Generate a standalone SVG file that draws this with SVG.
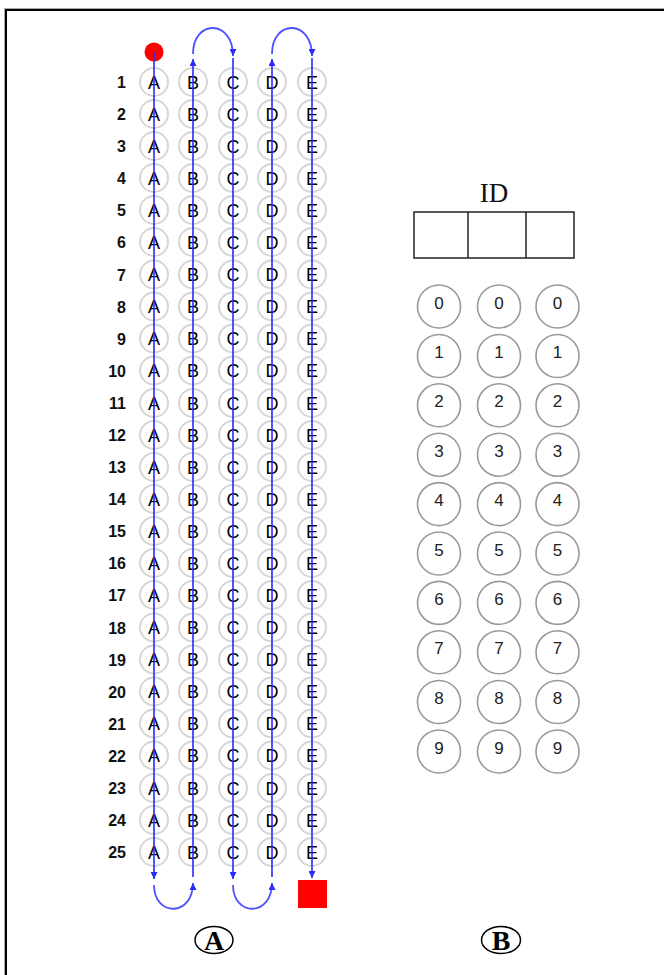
<svg xmlns="http://www.w3.org/2000/svg" width="664" height="975" viewBox="0 0 664 975">
<style>
.n{font-family:"Liberation Sans",Arial,sans-serif;font-size:16px;font-weight:bold;fill:#111;text-anchor:end}
.l{font-family:"Liberation Sans",Arial,sans-serif;font-size:18px;fill:#000;text-anchor:middle}
.b{fill:none;stroke:#d6d6d6;stroke-width:2}
.dc{fill:#fff;stroke:#999;stroke-width:1.6}
.dt{font-family:"Liberation Sans",Arial,sans-serif;font-size:17px;fill:#222;text-anchor:middle}
.ln{fill:none;stroke:#2a2aff;stroke-width:1.6}
.arc{fill:none;stroke:#5050ff;stroke-width:1.8}
.lab{font-family:"Liberation Serif","Times New Roman",serif;font-size:28px;font-weight:bold;fill:#000;text-anchor:middle}
</style>
<defs>
<marker id="ah" viewBox="0 0 10 10" refX="10" refY="5" markerWidth="8" markerHeight="7" markerUnits="userSpaceOnUse" orient="auto"><path d="M0,0 L10,5 L0,10 z" fill="#2a2aff"/></marker>
</defs>
<rect width="664" height="975" fill="#fff"/>
<g id="frame">
<path d="M4.5,975 V8.5 H664" fill="none" stroke="#aaa" stroke-width="1"/>
<path d="M6,975 V10 H664" fill="none" stroke="#000" stroke-width="2"/>
</g>
<g id="rows">
<g id="q1" transform="translate(0,82)"><text class="n" x="126" y="6">1</text><circle class="b" cx="154" r="14"/><circle class="b" cx="193" r="14"/><circle class="b" cx="233" r="14"/><circle class="b" cx="272" r="14"/><circle class="b" cx="312" r="14"/><text class="l" x="154" y="6.5">A</text><text class="l" x="193" y="6.5">B</text><text class="l" x="233" y="6.5">C</text><text class="l" x="272" y="6.5">D</text><text class="l" x="312" y="6.5">E</text></g>
<g id="q2" transform="translate(0,114)"><text class="n" x="126" y="6">2</text><circle class="b" cx="154" r="14"/><circle class="b" cx="193" r="14"/><circle class="b" cx="233" r="14"/><circle class="b" cx="272" r="14"/><circle class="b" cx="312" r="14"/><text class="l" x="154" y="6.5">A</text><text class="l" x="193" y="6.5">B</text><text class="l" x="233" y="6.5">C</text><text class="l" x="272" y="6.5">D</text><text class="l" x="312" y="6.5">E</text></g>
<g id="q3" transform="translate(0,146)"><text class="n" x="126" y="6">3</text><circle class="b" cx="154" r="14"/><circle class="b" cx="193" r="14"/><circle class="b" cx="233" r="14"/><circle class="b" cx="272" r="14"/><circle class="b" cx="312" r="14"/><text class="l" x="154" y="6.5">A</text><text class="l" x="193" y="6.5">B</text><text class="l" x="233" y="6.5">C</text><text class="l" x="272" y="6.5">D</text><text class="l" x="312" y="6.5">E</text></g>
<g id="q4" transform="translate(0,178)"><text class="n" x="126" y="6">4</text><circle class="b" cx="154" r="14"/><circle class="b" cx="193" r="14"/><circle class="b" cx="233" r="14"/><circle class="b" cx="272" r="14"/><circle class="b" cx="312" r="14"/><text class="l" x="154" y="6.5">A</text><text class="l" x="193" y="6.5">B</text><text class="l" x="233" y="6.5">C</text><text class="l" x="272" y="6.5">D</text><text class="l" x="312" y="6.5">E</text></g>
<g id="q5" transform="translate(0,210)"><text class="n" x="126" y="6">5</text><circle class="b" cx="154" r="14"/><circle class="b" cx="193" r="14"/><circle class="b" cx="233" r="14"/><circle class="b" cx="272" r="14"/><circle class="b" cx="312" r="14"/><text class="l" x="154" y="6.5">A</text><text class="l" x="193" y="6.5">B</text><text class="l" x="233" y="6.5">C</text><text class="l" x="272" y="6.5">D</text><text class="l" x="312" y="6.5">E</text></g>
<g id="q6" transform="translate(0,242)"><text class="n" x="126" y="6">6</text><circle class="b" cx="154" r="14"/><circle class="b" cx="193" r="14"/><circle class="b" cx="233" r="14"/><circle class="b" cx="272" r="14"/><circle class="b" cx="312" r="14"/><text class="l" x="154" y="6.5">A</text><text class="l" x="193" y="6.5">B</text><text class="l" x="233" y="6.5">C</text><text class="l" x="272" y="6.5">D</text><text class="l" x="312" y="6.5">E</text></g>
<g id="q7" transform="translate(0,274.5)"><text class="n" x="126" y="6">7</text><circle class="b" cx="154" r="14"/><circle class="b" cx="193" r="14"/><circle class="b" cx="233" r="14"/><circle class="b" cx="272" r="14"/><circle class="b" cx="312" r="14"/><text class="l" x="154" y="6.5">A</text><text class="l" x="193" y="6.5">B</text><text class="l" x="233" y="6.5">C</text><text class="l" x="272" y="6.5">D</text><text class="l" x="312" y="6.5">E</text></g>
<g id="q8" transform="translate(0,306.5)"><text class="n" x="126" y="6">8</text><circle class="b" cx="154" r="14"/><circle class="b" cx="193" r="14"/><circle class="b" cx="233" r="14"/><circle class="b" cx="272" r="14"/><circle class="b" cx="312" r="14"/><text class="l" x="154" y="6.5">A</text><text class="l" x="193" y="6.5">B</text><text class="l" x="233" y="6.5">C</text><text class="l" x="272" y="6.5">D</text><text class="l" x="312" y="6.5">E</text></g>
<g id="q9" transform="translate(0,338.5)"><text class="n" x="126" y="6">9</text><circle class="b" cx="154" r="14"/><circle class="b" cx="193" r="14"/><circle class="b" cx="233" r="14"/><circle class="b" cx="272" r="14"/><circle class="b" cx="312" r="14"/><text class="l" x="154" y="6.5">A</text><text class="l" x="193" y="6.5">B</text><text class="l" x="233" y="6.5">C</text><text class="l" x="272" y="6.5">D</text><text class="l" x="312" y="6.5">E</text></g>
<g id="q10" transform="translate(0,370.5)"><text class="n" x="126" y="6">10</text><circle class="b" cx="154" r="14"/><circle class="b" cx="193" r="14"/><circle class="b" cx="233" r="14"/><circle class="b" cx="272" r="14"/><circle class="b" cx="312" r="14"/><text class="l" x="154" y="6.5">A</text><text class="l" x="193" y="6.5">B</text><text class="l" x="233" y="6.5">C</text><text class="l" x="272" y="6.5">D</text><text class="l" x="312" y="6.5">E</text></g>
<g id="q11" transform="translate(0,403)"><text class="n" x="126" y="6">11</text><circle class="b" cx="154" r="14"/><circle class="b" cx="193" r="14"/><circle class="b" cx="233" r="14"/><circle class="b" cx="272" r="14"/><circle class="b" cx="312" r="14"/><text class="l" x="154" y="6.5">A</text><text class="l" x="193" y="6.5">B</text><text class="l" x="233" y="6.5">C</text><text class="l" x="272" y="6.5">D</text><text class="l" x="312" y="6.5">E</text></g>
<g id="q12" transform="translate(0,435)"><text class="n" x="126" y="6">12</text><circle class="b" cx="154" r="14"/><circle class="b" cx="193" r="14"/><circle class="b" cx="233" r="14"/><circle class="b" cx="272" r="14"/><circle class="b" cx="312" r="14"/><text class="l" x="154" y="6.5">A</text><text class="l" x="193" y="6.5">B</text><text class="l" x="233" y="6.5">C</text><text class="l" x="272" y="6.5">D</text><text class="l" x="312" y="6.5">E</text></g>
<g id="q13" transform="translate(0,467)"><text class="n" x="126" y="6">13</text><circle class="b" cx="154" r="14"/><circle class="b" cx="193" r="14"/><circle class="b" cx="233" r="14"/><circle class="b" cx="272" r="14"/><circle class="b" cx="312" r="14"/><text class="l" x="154" y="6.5">A</text><text class="l" x="193" y="6.5">B</text><text class="l" x="233" y="6.5">C</text><text class="l" x="272" y="6.5">D</text><text class="l" x="312" y="6.5">E</text></g>
<g id="q14" transform="translate(0,499)"><text class="n" x="126" y="6">14</text><circle class="b" cx="154" r="14"/><circle class="b" cx="193" r="14"/><circle class="b" cx="233" r="14"/><circle class="b" cx="272" r="14"/><circle class="b" cx="312" r="14"/><text class="l" x="154" y="6.5">A</text><text class="l" x="193" y="6.5">B</text><text class="l" x="233" y="6.5">C</text><text class="l" x="272" y="6.5">D</text><text class="l" x="312" y="6.5">E</text></g>
<g id="q15" transform="translate(0,531)"><text class="n" x="126" y="6">15</text><circle class="b" cx="154" r="14"/><circle class="b" cx="193" r="14"/><circle class="b" cx="233" r="14"/><circle class="b" cx="272" r="14"/><circle class="b" cx="312" r="14"/><text class="l" x="154" y="6.5">A</text><text class="l" x="193" y="6.5">B</text><text class="l" x="233" y="6.5">C</text><text class="l" x="272" y="6.5">D</text><text class="l" x="312" y="6.5">E</text></g>
<g id="q16" transform="translate(0,563)"><text class="n" x="126" y="6">16</text><circle class="b" cx="154" r="14"/><circle class="b" cx="193" r="14"/><circle class="b" cx="233" r="14"/><circle class="b" cx="272" r="14"/><circle class="b" cx="312" r="14"/><text class="l" x="154" y="6.5">A</text><text class="l" x="193" y="6.5">B</text><text class="l" x="233" y="6.5">C</text><text class="l" x="272" y="6.5">D</text><text class="l" x="312" y="6.5">E</text></g>
<g id="q17" transform="translate(0,595)"><text class="n" x="126" y="6">17</text><circle class="b" cx="154" r="14"/><circle class="b" cx="193" r="14"/><circle class="b" cx="233" r="14"/><circle class="b" cx="272" r="14"/><circle class="b" cx="312" r="14"/><text class="l" x="154" y="6.5">A</text><text class="l" x="193" y="6.5">B</text><text class="l" x="233" y="6.5">C</text><text class="l" x="272" y="6.5">D</text><text class="l" x="312" y="6.5">E</text></g>
<g id="q18" transform="translate(0,627.5)"><text class="n" x="126" y="6">18</text><circle class="b" cx="154" r="14"/><circle class="b" cx="193" r="14"/><circle class="b" cx="233" r="14"/><circle class="b" cx="272" r="14"/><circle class="b" cx="312" r="14"/><text class="l" x="154" y="6.5">A</text><text class="l" x="193" y="6.5">B</text><text class="l" x="233" y="6.5">C</text><text class="l" x="272" y="6.5">D</text><text class="l" x="312" y="6.5">E</text></g>
<g id="q19" transform="translate(0,659.5)"><text class="n" x="126" y="6">19</text><circle class="b" cx="154" r="14"/><circle class="b" cx="193" r="14"/><circle class="b" cx="233" r="14"/><circle class="b" cx="272" r="14"/><circle class="b" cx="312" r="14"/><text class="l" x="154" y="6.5">A</text><text class="l" x="193" y="6.5">B</text><text class="l" x="233" y="6.5">C</text><text class="l" x="272" y="6.5">D</text><text class="l" x="312" y="6.5">E</text></g>
<g id="q20" transform="translate(0,691.5)"><text class="n" x="126" y="6">20</text><circle class="b" cx="154" r="14"/><circle class="b" cx="193" r="14"/><circle class="b" cx="233" r="14"/><circle class="b" cx="272" r="14"/><circle class="b" cx="312" r="14"/><text class="l" x="154" y="6.5">A</text><text class="l" x="193" y="6.5">B</text><text class="l" x="233" y="6.5">C</text><text class="l" x="272" y="6.5">D</text><text class="l" x="312" y="6.5">E</text></g>
<g id="q21" transform="translate(0,723.5)"><text class="n" x="126" y="6">21</text><circle class="b" cx="154" r="14"/><circle class="b" cx="193" r="14"/><circle class="b" cx="233" r="14"/><circle class="b" cx="272" r="14"/><circle class="b" cx="312" r="14"/><text class="l" x="154" y="6.5">A</text><text class="l" x="193" y="6.5">B</text><text class="l" x="233" y="6.5">C</text><text class="l" x="272" y="6.5">D</text><text class="l" x="312" y="6.5">E</text></g>
<g id="q22" transform="translate(0,755.5)"><text class="n" x="126" y="6">22</text><circle class="b" cx="154" r="14"/><circle class="b" cx="193" r="14"/><circle class="b" cx="233" r="14"/><circle class="b" cx="272" r="14"/><circle class="b" cx="312" r="14"/><text class="l" x="154" y="6.5">A</text><text class="l" x="193" y="6.5">B</text><text class="l" x="233" y="6.5">C</text><text class="l" x="272" y="6.5">D</text><text class="l" x="312" y="6.5">E</text></g>
<g id="q23" transform="translate(0,788)"><text class="n" x="126" y="6">23</text><circle class="b" cx="154" r="14"/><circle class="b" cx="193" r="14"/><circle class="b" cx="233" r="14"/><circle class="b" cx="272" r="14"/><circle class="b" cx="312" r="14"/><text class="l" x="154" y="6.5">A</text><text class="l" x="193" y="6.5">B</text><text class="l" x="233" y="6.5">C</text><text class="l" x="272" y="6.5">D</text><text class="l" x="312" y="6.5">E</text></g>
<g id="q24" transform="translate(0,820)"><text class="n" x="126" y="6">24</text><circle class="b" cx="154" r="14"/><circle class="b" cx="193" r="14"/><circle class="b" cx="233" r="14"/><circle class="b" cx="272" r="14"/><circle class="b" cx="312" r="14"/><text class="l" x="154" y="6.5">A</text><text class="l" x="193" y="6.5">B</text><text class="l" x="233" y="6.5">C</text><text class="l" x="272" y="6.5">D</text><text class="l" x="312" y="6.5">E</text></g>
<g id="q25" transform="translate(0,852)"><text class="n" x="126" y="6">25</text><circle class="b" cx="154" r="14"/><circle class="b" cx="193" r="14"/><circle class="b" cx="233" r="14"/><circle class="b" cx="272" r="14"/><circle class="b" cx="312" r="14"/><text class="l" x="154" y="6.5">A</text><text class="l" x="193" y="6.5">B</text><text class="l" x="233" y="6.5">C</text><text class="l" x="272" y="6.5">D</text><text class="l" x="312" y="6.5">E</text></g>
</g>
<g id="start"><circle cx="154" cy="52" r="9.5" fill="#ff0000"/></g>
<g id="end"><rect x="298" y="880" width="29" height="28" fill="#ff0000"/></g>
<g id="connectors">
<path class="ln" d="M154,52 V879" marker-end="url(#ah)"/>
<path class="arc" d="M154,885 C154,917 193,917 193,883" marker-end="url(#ah)"/>
<path class="ln" d="M193,877 V59" marker-end="url(#ah)"/>
<path class="arc" d="M193,54 C193,19 233,19 233,56" marker-end="url(#ah)"/>
<path class="ln" d="M233,58 V879" marker-end="url(#ah)"/>
<path class="arc" d="M233,885 C233,917 272,917 272,883" marker-end="url(#ah)"/>
<path class="ln" d="M272,877 V59" marker-end="url(#ah)"/>
<path class="arc" d="M272,54 C272,19 312,19 312,56" marker-end="url(#ah)"/>
<path class="ln" d="M312,58 V878" marker-end="url(#ah)"/>
</g>
<g id="id-box">
<text x="494" y="202" font-family="'Liberation Serif','Times New Roman',serif" font-size="27" fill="#111" text-anchor="middle">ID</text>
<rect x="414" y="212" width="160" height="46" fill="none" stroke="#222" stroke-width="1.5"/>
<line x1="468" y1="212" x2="468" y2="258" stroke="#222" stroke-width="1.5"/>
<line x1="526" y1="212" x2="526" y2="258" stroke="#222" stroke-width="1.5"/>
</g>
<g id="digits">
<g id="d0" transform="translate(0,306.5)"><circle class="dc" cx="439" r="21.5"/><circle class="dc" cx="499" r="21.5"/><circle class="dc" cx="557.5" r="21.5"/><text class="dt" x="439" y="2">0</text><text class="dt" x="499" y="2">0</text><text class="dt" x="557.5" y="2">0</text></g>
<g id="d1" transform="translate(0,356)"><circle class="dc" cx="439" r="21.5"/><circle class="dc" cx="499" r="21.5"/><circle class="dc" cx="557.5" r="21.5"/><text class="dt" x="439" y="2">1</text><text class="dt" x="499" y="2">1</text><text class="dt" x="557.5" y="2">1</text></g>
<g id="d2" transform="translate(0,405.3)"><circle class="dc" cx="439" r="21.5"/><circle class="dc" cx="499" r="21.5"/><circle class="dc" cx="557.5" r="21.5"/><text class="dt" x="439" y="2">2</text><text class="dt" x="499" y="2">2</text><text class="dt" x="557.5" y="2">2</text></g>
<g id="d3" transform="translate(0,454.7)"><circle class="dc" cx="439" r="21.5"/><circle class="dc" cx="499" r="21.5"/><circle class="dc" cx="557.5" r="21.5"/><text class="dt" x="439" y="2">3</text><text class="dt" x="499" y="2">3</text><text class="dt" x="557.5" y="2">3</text></g>
<g id="d4" transform="translate(0,504.1)"><circle class="dc" cx="439" r="21.5"/><circle class="dc" cx="499" r="21.5"/><circle class="dc" cx="557.5" r="21.5"/><text class="dt" x="439" y="2">4</text><text class="dt" x="499" y="2">4</text><text class="dt" x="557.5" y="2">4</text></g>
<g id="d5" transform="translate(0,553.5)"><circle class="dc" cx="439" r="21.5"/><circle class="dc" cx="499" r="21.5"/><circle class="dc" cx="557.5" r="21.5"/><text class="dt" x="439" y="2">5</text><text class="dt" x="499" y="2">5</text><text class="dt" x="557.5" y="2">5</text></g>
<g id="d6" transform="translate(0,602.9)"><circle class="dc" cx="439" r="21.5"/><circle class="dc" cx="499" r="21.5"/><circle class="dc" cx="557.5" r="21.5"/><text class="dt" x="439" y="2">6</text><text class="dt" x="499" y="2">6</text><text class="dt" x="557.5" y="2">6</text></g>
<g id="d7" transform="translate(0,652.3)"><circle class="dc" cx="439" r="21.5"/><circle class="dc" cx="499" r="21.5"/><circle class="dc" cx="557.5" r="21.5"/><text class="dt" x="439" y="2">7</text><text class="dt" x="499" y="2">7</text><text class="dt" x="557.5" y="2">7</text></g>
<g id="d8" transform="translate(0,702)"><circle class="dc" cx="439" r="21.5"/><circle class="dc" cx="499" r="21.5"/><circle class="dc" cx="557.5" r="21.5"/><text class="dt" x="439" y="2">8</text><text class="dt" x="499" y="2">8</text><text class="dt" x="557.5" y="2">8</text></g>
<g id="d9" transform="translate(0,751.5)"><circle class="dc" cx="439" r="21.5"/><circle class="dc" cx="499" r="21.5"/><circle class="dc" cx="557.5" r="21.5"/><text class="dt" x="439" y="2">9</text><text class="dt" x="499" y="2">9</text><text class="dt" x="557.5" y="2">9</text></g>
</g>
<g id="label-a"><ellipse cx="214" cy="940" rx="19" ry="13.5" fill="none" stroke="#000" stroke-width="1.5"/><text class="lab" x="214" y="950">A</text></g>
<g id="label-b"><ellipse cx="501" cy="940" rx="19.5" ry="13.5" fill="none" stroke="#000" stroke-width="1.5"/><text class="lab" x="501" y="950">B</text></g>
</svg>
